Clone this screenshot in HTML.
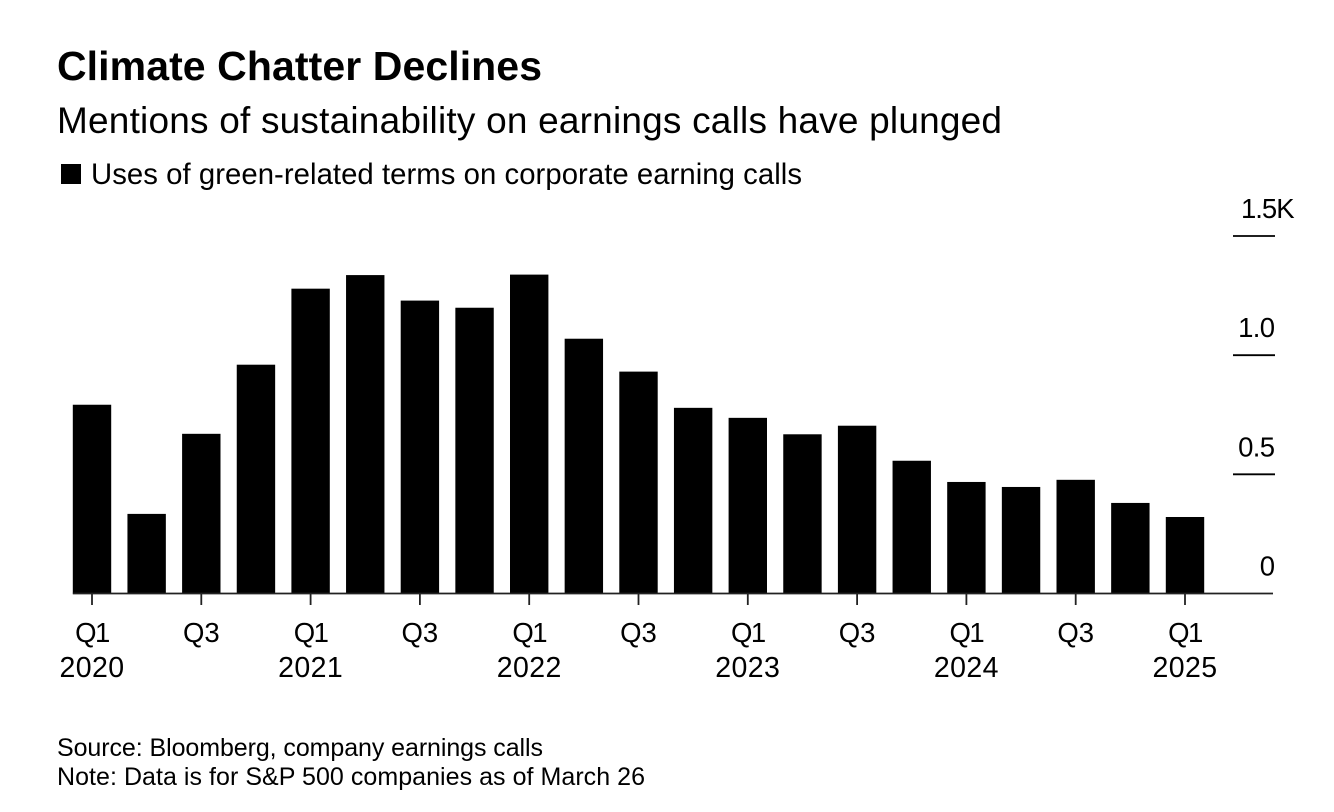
<!DOCTYPE html>
<html lang="en">
<head>
<meta charset="utf-8">
<title>Climate Chatter Declines</title>
<style>
html,body{margin:0;padding:0;background:#fff;}
svg{display:block;}
text{font-family:"Liberation Sans",Arial,sans-serif;fill:#000;}
</style>
</head>
<body>
<svg id="chart" xmlns="http://www.w3.org/2000/svg" width="1334" height="812" viewBox="0 0 1334 812">
  <rect x="0" y="0" width="1334" height="812" fill="#fff"/>
  <text x="57" y="80" font-size="41" font-weight="700" textLength="485" lengthAdjust="spacing">Climate Chatter Declines</text>
  <text x="57" y="133" font-size="37" textLength="945" lengthAdjust="spacing">Mentions of sustainability on earnings calls have plunged</text>
  <rect x="61" y="164" width="20" height="20" fill="#000"/>
  <text x="91" y="184" font-size="29.3" textLength="711" lengthAdjust="spacing">Uses of green-related terms on corporate earning calls</text>
  <g id="bars"></g>
  <g id="y-axis"></g>
  <g id="x-axis"></g>
  <text x="57" y="756" font-size="25" textLength="486" lengthAdjust="spacing">Source: Bloomberg, company earnings calls</text>
  <text x="57" y="785" font-size="25" textLength="588" lengthAdjust="spacing">Note: Data is for S&amp;P 500 companies as of March 26</text>
</svg>
<script>
const quarters = ['Q1','Q2','Q3','Q4','Q1','Q2','Q3','Q4','Q1','Q2','Q3','Q4','Q1','Q2','Q3','Q4','Q1','Q2','Q3','Q4','Q1'];
const years = ['2020','2020','2020','2020','2021','2021','2021','2021','2022','2022','2022','2022','2023','2023','2023','2023','2024','2024','2024','2024','2025'];
const mentions = [792,334,670,960,1279,1336,1229,1199,1338,1069,931,779,737,668,704,557,468,447,477,380,321];
const yTicks = [0,500,1000,1500];
const yTickLabels = ['0','0.5','1.0','1.5K'];

const NS = 'http://www.w3.org/2000/svg';
const xFirst = 92, xLast = 1185, yZero = 593.5, yTop = 236, yMax = 1500, barW = 38.4;
function xScale(i){ return xFirst + (xLast - xFirst) * i / (quarters.length - 1); }
function yScale(v){ return yZero - (yZero - yTop) * v / yMax; }
function make(tag, attrs, parent, txt){
  const el = document.createElementNS(NS, tag);
  for (const k in attrs) el.setAttribute(k, attrs[k]);
  if (txt !== undefined) el.textContent = txt;
  parent.appendChild(el);
  return el;
}

const barsG = document.getElementById('bars');
mentions.forEach(function(v, i){
  const el = make('rect', {x: xScale(i) - barW / 2, y: yScale(v), width: barW, height: yZero - yScale(v), fill: '#000'}, barsG);
  
  
});

const yG = document.getElementById('y-axis');
yTicks.forEach(function(t, i){
  const y = yScale(t);
  if (t !== 0) {
    const ln = make('line', {x1: 1233, x2: 1275, y1: y, y2: y, stroke: '#000', 'stroke-width': 1.8}, yG);
    
    
  }
  const label = yTickLabels[i];
  const hasK = label.endsWith('K');
  const tx = make('text', {x: hasK ? 1241 : 1274.5, y: y - 18, 'font-size': 27.5, 'text-anchor': hasK ? 'start' : 'end', 'letter-spacing': hasK ? -1 : -0.6}, yG, label);
  
  
});

const xG = document.getElementById('x-axis');
const axisLine = make('line', {x1: xScale(0) - barW / 2, x2: 1273, y1: yZero, y2: yZero, stroke: '#222', 'stroke-width': 1.8}, xG);


quarters.forEach(function(q, i){
  if (i % 2 !== 0) return;
  const x = xScale(i);
  const tick = make('line', {x1: x, x2: x, y1: yZero, y2: 605, stroke: '#222', 'stroke-width': 1.8}, xG);
  
  
  const ql = make('text', {x: x, y: 642, 'font-size': 27.5, 'text-anchor': 'middle', 'letter-spacing': q === 'Q1' ? -1.5 : 0}, xG, q);
  
  
  if (q === 'Q1') {
    const yl = make('text', {x: x, y: 677, 'font-size': 28.5, 'text-anchor': 'middle', 'letter-spacing': 0.4}, xG, years[i]);
    
    
  }
});
</script>
</body>
</html>
